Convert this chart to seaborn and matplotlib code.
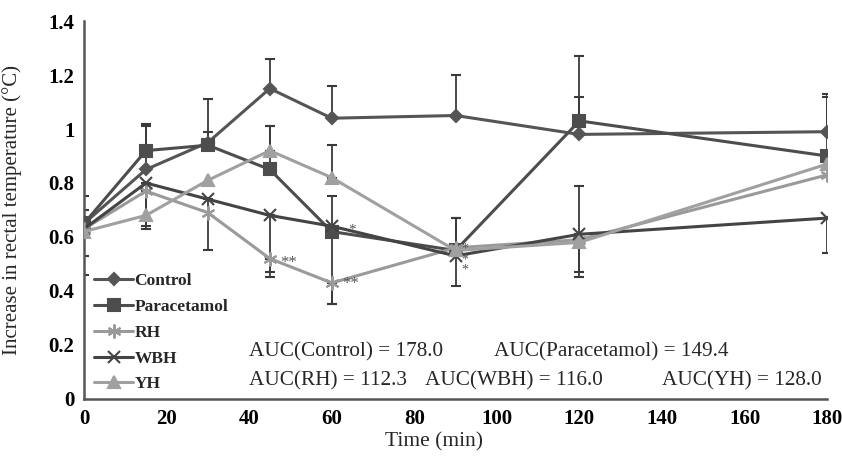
import numpy as np
import pandas as pd
import matplotlib
matplotlib.use("Agg")
import matplotlib.pyplot as plt
import seaborn as sns

time = [0, 15, 30, 45, 60, 90, 120, 180]
series_names = ["Control", "Paracetamol", "RH", "WBH", "YH"]
control = [0.65, 0.85, 0.95, 1.15, 1.04, 1.05, 0.98, 0.99]
paracetamol = [0.65, 0.92, 0.94, 0.85, 0.62, 0.55, 1.03, 0.90]
rh = [0.63, 0.77, 0.69, 0.52, 0.43, 0.56, 0.59, 0.83]
wbh = [0.63, 0.80, 0.74, 0.68, 0.64, 0.53, 0.61, 0.67]
yh = [0.62, 0.68, 0.81, 0.92, 0.82, 0.55, 0.58, 0.87]

# error bars (upper / lower), NaN = not drawn
control_up = [0.10, 0.16, 0.16, 0.11, 0.12, 0.15, 0.14, 0.14]
paracetamol_up = [0.05, 0.10, 0.05, 0.16, 0.13, 0.12, 0.24, 0.22]
rh_lo = [0.10, 0.14, np.nan, 0.05, 0.08, np.nan, 0.14, np.nan]
wbh_up = [np.nan, np.nan, np.nan, np.nan, np.nan, np.nan, 0.18, np.nan]
wbh_lo = [0.17, 0.16, 0.19, 0.23, 0.29, 0.11, 0.14, 0.13]
yh_up = [np.nan, np.nan, np.nan, 0.09, 0.12, 0.12, np.nan, np.nan]

auc_texts = ["AUC(Control) = 178.0", "AUC(Paracetamol) = 149.4",
             "AUC(RH) = 112.3", "AUC(WBH) = 116.0", "AUC(YH) = 128.0"]
x_ticks = [0, 20, 40, 60, 80, 100, 120, 140, 160, 180]
y_ticks = [0, 0.2, 0.4, 0.6, 0.8, 1.0, 1.2, 1.4]
y_tick_labels = ["0", "0.2", "0.4", "0.6", "0.8", "1", "1.2", "1.4"]

sns.set_style("white")
plt.rcParams["font.family"] = ["Liberation Serif", "DejaVu Serif"]

fig = plt.figure(figsize=(8.42, 4.57), dpi=100)
ax = fig.add_axes([0.0998, 0.127, 0.8825, 0.827])

styles = {
    "Control": dict(color="#555555", marker="D", ms=6),
    "Paracetamol": dict(color="#4d4d4d", marker="s", ms=9),
    "RH": dict(color="#9a9a9a", marker=(6, 2, 0), ms=10),
    "WBH": dict(color="#444444", marker="x", ms=8),
    "YH": dict(color="#a0a0a0", marker="^", ms=8),
}
values = {"Control": control, "Paracetamol": paracetamol, "RH": rh, "WBH": wbh, "YH": yh}
ups = {"Control": control_up, "Paracetamol": paracetamol_up, "RH": [np.nan]*8,
       "WBH": wbh_up, "YH": yh_up}
los = {"Control": [np.nan]*8, "Paracetamol": [np.nan]*8, "RH": rh_lo,
       "WBH": wbh_lo, "YH": [np.nan]*8}

err_col = "#3a3a3a"
for name in series_names:
    v = np.array(values[name]); t = np.array(time)
    up = np.array(ups[name]); lo = np.array(los[name])
    m = ~np.isnan(up)
    if m.any():
        ax.errorbar(t[m], v[m], yerr=[np.zeros(m.sum()), up[m]], fmt="none",
                    ecolor=err_col, elinewidth=1.3, capsize=3.5, capthick=1.5, zorder=2)
    m = ~np.isnan(lo)
    if m.any():
        ax.errorbar(t[m], v[m], yerr=[lo[m], np.zeros(m.sum())], fmt="none",
                    ecolor=err_col, elinewidth=1.3, capsize=3.5, capthick=1.5, zorder=2)

for name in series_names:
    st = styles[name]
    df = pd.DataFrame({"t": time, "v": values[name]})
    sns.lineplot(data=df, x="t", y="v", ax=ax, color=st["color"], marker=st["marker"],
                 markersize=st["ms"], markeredgecolor=st["color"], markeredgewidth=1.5,
                 linewidth=2.2, label=name, zorder=3)

# significance asterisks
ax.text(47.5, 0.505, "**", fontsize=12, color="#555555", ha="left", va="center")
ax.text(62.5, 0.425, "**", fontsize=12, color="#555555", ha="left", va="center")
ax.text(64.0, 0.625, "*", fontsize=11, color="#555555", ha="left", va="center")
ax.text(91.5, 0.515, "*\n*\n*", fontsize=10, color="#555555", ha="left", va="center",
        linespacing=0.75)

fs = 15.3
ax.text(40, 0.174, auc_texts[0], fontsize=fs, ha="left", va="center")
ax.text(99.3, 0.174, auc_texts[1], fontsize=fs, ha="left", va="center")
ax.text(40, 0.066, auc_texts[2], fontsize=fs, ha="left", va="center")
ax.text(82.5, 0.066, auc_texts[3], fontsize=fs, ha="left", va="center")
ax.text(140, 0.066, auc_texts[4], fontsize=fs, ha="left", va="center")

ax.set_xlim(0, 180)
ax.set_ylim(0, 1.4)
ax.set_xticks(x_ticks)
ax.set_yticks(y_ticks)
ax.set_yticklabels(y_tick_labels)
ax.tick_params(axis="both", direction="inout", length=7, width=1.2, colors="#444444",
               labelcolor="black", labelsize=15)
for lab in ax.get_xticklabels() + ax.get_yticklabels():
    lab.set_fontweight("bold")
for s in ["top", "right"]:
    ax.spines[s].set_visible(False)
for s in ["left", "bottom"]:
    ax.spines[s].set_color("#555555")
    ax.spines[s].set_linewidth(1.8)
ax.set_xlabel("Time (min)", fontsize=15.5)
ax.xaxis.set_label_coords(0.471, -0.088)
ax.set_ylabel("Increase in rectal temperature (°C)", fontsize=15)
ax.yaxis.set_label_coords(-0.084, 0.5)

leg = ax.legend(loc="upper left", bbox_to_anchor=(0.0, 0.36), frameon=False,
                prop={"weight": "bold", "size": 12.5}, handlelength=2.2, handletextpad=0.1,
                labelspacing=0.55, borderaxespad=0.2)

fig.savefig("out.png", dpi=100)
